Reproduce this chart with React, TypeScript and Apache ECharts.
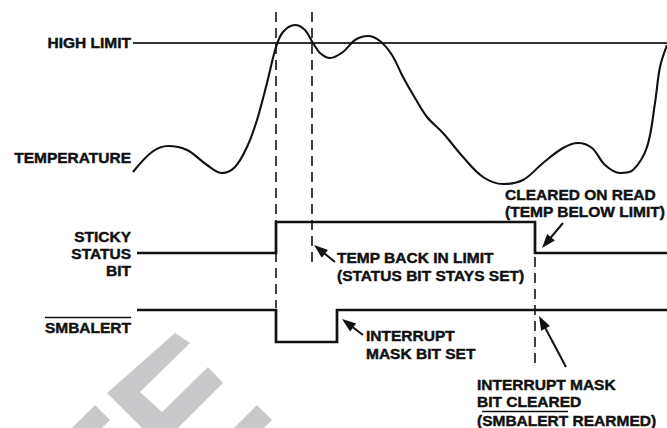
import { useEffect, useRef } from "react";
import * as echarts from "echarts";

const W = 667;
const H = 428;
const FONT = '"Liberation Sans", Arial, Helvetica, sans-serif';
const INK = "#111111";

// Time axis runs 0..667, level axis 0..428 (inverted, top = 0)
const highLimitLevel = 43;
const highLimitStart = 133;
const highLimitEnd = 667;

const tempTime = [133, 152, 168, 187, 207, 222, 235, 247, 257, 267, 276, 283, 295, 305, 313, 320, 330, 343, 355, 368, 380, 392, 403, 415, 427, 443, 463, 483, 503, 523, 543, 563, 578, 592, 605, 620, 633, 647, 655, 660, 667];
const tempLevel = [172, 152, 146, 150, 165, 173, 167, 147, 120, 83, 47, 32, 25, 30, 43, 53, 58, 52, 40, 36, 41, 55, 77, 98, 117, 133, 157, 177, 184, 180, 163, 148, 143, 148, 165, 173, 170, 147, 103, 67, 45];

const stickyTime = [137, 276, 276, 535, 535, 667];
const stickyLevel = [253, 253, 222, 222, 253, 253];

const smbTime = [137, 276, 276, 337, 337, 667];
const smbLevel = [310, 310, 342, 342, 310, 310];

const markerTime = [276, 312, 535];
const markerTop = [12, 12, 257];
const markerBottom = [308, 265, 365];

const arrowTails = [[335, 262], [363, 335], [563, 223], [566, 367]];
const arrowTips = [[314, 245], [342, 319], [542, 248], [539, 316]];

const watermarkPieces = [
  [[175, 333], [190, 343], [140, 392], [162, 412], [208, 367], [223, 383], [178, 428], [142, 428], [107, 393]],
  [[95, 405], [110, 420], [102, 428], [72, 428]],
  [[257, 405], [272, 420], [264, 428], [234, 428]],
];

type Label = { text: string; x: number; y: number; align: "left" | "right" };
const labels: Label[] = [
  { text: "HIGH LIMIT", x: 131, y: 42, align: "right" },
  { text: "TEMPERATURE", x: 131, y: 157.5, align: "right" },
  { text: "STICKY", x: 131, y: 236, align: "right" },
  { text: "STATUS", x: 131, y: 253, align: "right" },
  { text: "BIT", x: 131, y: 270, align: "right" },
  { text: "SMBALERT", x: 131, y: 327, align: "right" },
  { text: "TEMP BACK IN LIMIT", x: 337, y: 257.5, align: "left" },
  { text: "(STATUS BIT STAYS SET)", x: 337, y: 275, align: "left" },
  { text: "CLEARED ON READ", x: 505, y: 194, align: "left" },
  { text: "(TEMP BELOW LIMIT)", x: 505, y: 211, align: "left" },
  { text: "INTERRUPT", x: 366, y: 335, align: "left" },
  { text: "MASK BIT SET", x: 366, y: 353, align: "left" },
  { text: "INTERRUPT MASK", x: 477, y: 384, align: "left" },
  { text: "BIT CLEARED", x: 477, y: 401, align: "left" },
  { text: "(SMBALERT REARMED)", x: 477, y: 420, align: "left" },
];
const overlines = [
  { x1: 45, x2: 131, y: 317.5 },
  { x1: 482, x2: 568, y: 411.5 },
];

const HEAD_LEN = 14;
const HEAD_W = 10;

function arrowSegment(tail: number[], tip: number[]) {
  const dx = tip[0] - tail[0];
  const dy = tip[1] - tail[1];
  const len = Math.hypot(dx, dy);
  const k = (len - HEAD_LEN / 2) / len;
  return [{ coord: tail }, { coord: [tail[0] + dx * k, tail[1] + dy * k] }];
}

function zip(xs: number[], ys: number[]) {
  return xs.map((x, i) => [x, ys[i]]);
}

export default function App() {
  const ref = useRef<HTMLDivElement>(null);
  useEffect(() => {
    if (!ref.current) return;
    const chart = echarts.init(ref.current, undefined, { renderer: "svg" });

    const graphics: any[] = [];
    watermarkPieces.forEach((pts) => {
      graphics.push({
        type: "polygon",
        shape: { points: pts },
        style: { fill: "#c9c9cc" },
        silent: true,
        z: -10,
      });
    });
    labels.forEach((l) => {
      graphics.push({
        type: "text",
        x: l.x,
        y: l.y,
        style: {
          text: l.text,
          fill: INK,
          stroke: INK,
          lineWidth: 0.45,
          font: `bold 15.5px ${FONT}`,
          align: l.align,
          verticalAlign: "middle",
        },
      });
    });
    overlines.forEach((o) => {
      graphics.push({
        type: "line",
        shape: { x1: o.x1, y1: o.y, x2: o.x2, y2: o.y },
        style: { stroke: INK, lineWidth: 1.3 },
      });
    });

    const series: any[] = [
      {
        type: "line",
        name: "HIGH LIMIT",
        data: [[highLimitStart, highLimitLevel], [highLimitEnd, highLimitLevel]],
        showSymbol: false,
        lineStyle: { color: "#333", width: 1.8 },
        silent: true,
      },
      {
        type: "line",
        name: "TEMPERATURE",
        data: zip(tempTime, tempLevel),
        smooth: 0.35,
        showSymbol: false,
        lineStyle: { color: INK, width: 2.1 },
        silent: true,
      },
      {
        type: "line",
        name: "STICKY STATUS BIT",
        data: zip(stickyTime, stickyLevel),
        showSymbol: false,
        lineStyle: { color: INK, width: 2.7, join: "miter" },
        silent: true,
      },
      {
        type: "line",
        name: "SMBALERT",
        data: zip(smbTime, smbLevel),
        showSymbol: false,
        lineStyle: { color: INK, width: 2.7, join: "miter" },
        silent: true,
      },
    ];
    markerTime.forEach((t, i) => {
      series.push({
        type: "line",
        data: [[t, markerTop[i]], [t, markerBottom[i]]],
        showSymbol: false,
        lineStyle: { color: INK, width: 1.6, type: [10, 6] },
        silent: true,
      });
    });
    series.push({
      type: "line",
      data: [],
      silent: true,
      markLine: {
        silent: true,
        symbol: ["none", "triangle"],
        symbolSize: [HEAD_W, HEAD_LEN],
        label: { show: false },
        lineStyle: { color: INK, width: 2, type: "solid" },
        emphasis: { disabled: true },
        data: arrowTails.map((tail, i) => arrowSegment(tail, arrowTips[i])),
      },
    });

    chart.setOption({
      animation: false,
      backgroundColor: "#ffffff",
      grid: { left: 0, right: 0, top: 0, bottom: 0, containLabel: false },
      xAxis: { type: "value", min: 0, max: W, show: false },
      yAxis: { type: "value", min: 0, max: H, inverse: true, show: false },
      graphic: graphics,
      series,
    });
    return () => chart.dispose();
  }, []);
  return (
    <div
      ref={ref}
      style={{ position: "absolute", left: 0, top: 0, width: W, height: H }}
    />
  );
}
